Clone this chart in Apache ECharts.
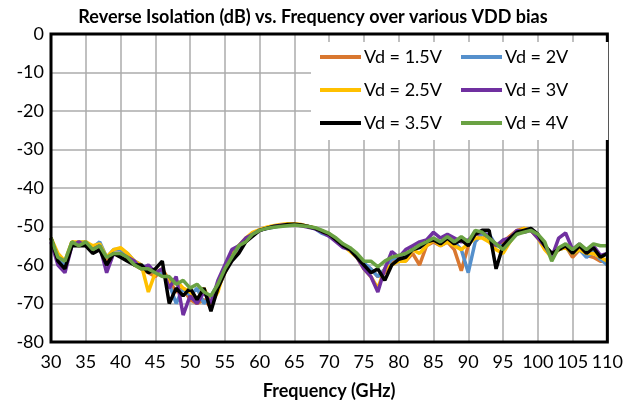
<!DOCTYPE html>
<html>
<head>
<meta charset="utf-8">
<script src="https://cdn.jsdelivr.net/npm/echarts@6/dist/echarts.min.js"></script>
<style>
  html, body { margin: 0; padding: 0; background: #fff; }
  #chart { width: 626px; height: 405px; }
</style>
</head>
<body>
<div id="chart"></div>
<script>
  // frequency points (GHz)
  const freqs = [30, 31, 32, 33, 34, 35, 36, 37, 38, 39, 40, 41, 42, 43, 44, 45, 46, 47, 48, 49,
    50, 51, 52, 53, 54, 55, 56, 57, 58, 59, 60, 61, 62, 63, 64, 65, 66, 67, 68, 69,
    70, 71, 72, 73, 74, 75, 76, 77, 78, 79, 80, 81, 82, 83, 84, 85, 86, 87, 88, 89,
    90, 91, 92, 93, 94, 95, 96, 97, 98, 99, 100, 101, 102, 103, 104, 105, 106, 107, 108, 109, 110];

  const xTicks = [30, 35, 40, 45, 50, 55, 60, 65, 70, 75, 80, 85, 90, 95, 100, 105, 110];
  const yTicks = [0, -10, -20, -30, -40, -50, -60, -70, -80];

  // S12 (dB) per Vd
  const vd15 = [-53, -58, -60, -54, -55, -54, -56, -55, -59, -57, -57, -58, -60, -61, -62, -63, -61, -64, -67, -66,
    -69, -70, -69, -71, -66, -62, -58, -56, -54, -52, -51, -50.3, -50, -49.7, -49.5, -49.4, -49.6, -50, -50.5, -51.2,
    -52, -53.5, -55, -56, -57.5, -60, -61, -63, -62, -59, -58, -59, -57, -60, -55, -54, -55, -54, -56, -61.5,
    -55, -52, -52, -53, -55, -54, -52.5, -51, -50.5, -51, -52.5, -55, -57, -56, -55, -58, -56, -57.5, -58, -59, -59];
  const vd2 = [-53, -58, -60, -55, -54, -54, -55.5, -54, -58, -56, -56, -57, -59, -60, -61, -62, -62, -65, -70, -66,
    -68, -66, -70, -68, -65, -61, -57.5, -55.5, -53.5, -52, -51, -50.5, -50.2, -49.8, -49.6, -49.5, -49.7, -50, -50.6, -51.8,
    -52.5, -53.5, -55, -56, -57.5, -59.5, -61, -63, -61, -58.5, -58, -57.5, -56, -55, -54.5, -53.5, -54, -53, -54, -56,
    -62, -54, -52, -52, -55, -55, -53.5, -52, -51, -51, -52.5, -55, -57, -56, -55.5, -57, -56, -58, -56.5, -58.5, -60];
  const vd25 = [-53, -57, -59, -54, -54, -54, -55, -54.5, -58, -56, -55.5, -57, -59, -60, -67, -62, -61, -65, -64, -66,
    -67, -69, -66, -70, -67, -61, -57, -55, -53, -51.5, -50.8, -50.2, -49.8, -49.5, -49.3, -49.3, -49.5, -50, -50.4, -51.2,
    -52, -53.5, -55, -56.5, -58, -61, -63, -66, -61, -60, -59, -59, -56, -57, -55, -53.5, -55, -54, -55, -56,
    -54.5, -53, -53, -54, -56, -57, -54, -51.5, -50.5, -51, -53, -56, -58, -56, -55.5, -57, -56, -57, -57, -58, -59];
  const vd3 = [-54, -60, -62, -55, -54, -55, -56, -55, -62, -57, -57, -58, -59, -61, -60, -62, -61, -66, -63, -73,
    -68, -70, -67, -70, -64, -60, -56, -55, -53, -52, -51, -50.5, -50, -49.7, -49.6, -49.5, -49.8, -50.2, -50.6, -51.5,
    -52.5, -54, -55.5, -56, -58, -61, -63, -67, -61, -56.5, -58, -56, -55, -54, -53.5, -51.5, -53, -52, -53, -54,
    -53.5, -52, -51.5, -52.5, -55, -53.5, -53, -51, -51.5, -51, -53, -55, -58, -53, -51.7, -56, -54.5, -56.5, -55, -57.5, -57];
  const vd35 = [-53, -59, -61, -55, -55, -55, -57, -56, -60, -57, -58, -59, -60, -60, -62, -61, -59, -70, -66, -68,
    -66, -69, -66, -72, -66, -62, -59, -57, -54, -52.5, -51, -50.5, -50, -49.8, -49.5, -49.4, -49.6, -50, -50.5, -51.3,
    -52, -53.5, -55, -56, -58, -60, -62, -61, -64, -60, -58.5, -58, -56, -55.5, -54, -53.5, -54.5, -53, -54.5, -53.5,
    -55, -52, -51, -51, -61, -55, -53, -51.5, -51, -50.5, -52, -55, -57, -56, -55, -57, -55, -57, -55.5, -58, -57];
  const vd4 = [-53, -58, -59, -54, -55, -54, -56, -55, -58, -57, -57, -58, -60, -61, -61, -62, -63, -63, -65, -64,
    -66, -65, -67, -68, -65, -61, -58, -55, -54, -52, -51, -50.5, -50.2, -50, -49.8, -49.6, -49.8, -50, -50.3, -51,
    -51.8, -53, -54.5, -55.5, -57, -59, -59, -60.5, -59, -58, -57.5, -57, -56, -54.8, -54, -53, -54, -52.6, -54, -52.6,
    -54, -51, -51.5, -53, -54.5, -56, -54, -52, -51.5, -51, -52, -54, -59, -55.5, -54.5, -56, -54.5, -56, -54.5, -55, -55];

  const seriesDefs = [
    { name: 'Vd = 1.5V', data: vd15, color: '#D9772F' },
    { name: 'Vd = 2V', data: vd2, color: '#5590CC' },
    { name: 'Vd = 2.5V', data: vd25, color: '#FFC000' },
    { name: 'Vd = 3V', data: vd3, color: '#7030A0' },
    { name: 'Vd = 3.5V', data: vd35, color: '#000000' },
    { name: 'Vd = 4V', data: vd4, color: '#6AA243' },
  ];

  const font = 'Lato, "Open Sans", sans-serif';

  const chart = echarts.init(document.getElementById('chart'));

  const legendBase = {
    orient: 'vertical',
    top: 42,
    itemWidth: 41,
    itemHeight: 4,
    itemGap: 15,
    icon: 'rect',
    backgroundColor: '#fff',
    textStyle: { fontFamily: font, fontSize: 18, color: '#000', padding: [0, 0, 0, -2] },
  };

  chart.setOption({
    animation: false,
    title: {
      text: 'Reverse Isolation (dB) vs. Frequency over various VDD bias',
      left: 'center',
      top: 3,
      textStyle: { fontFamily: font, fontSize: 18, fontWeight: 'bold', color: '#000' },
    },
    legend: [
      Object.assign({}, legendBase, {
        left: 311,
        padding: [6, 14, 8, 9],
        data: ['Vd = 1.5V', 'Vd = 2.5V', 'Vd = 3.5V'],
      }),
      Object.assign({}, legendBase, {
        left: 452,
        padding: [6, 40, 8, 9],
        data: ['Vd = 2V', 'Vd = 3V', 'Vd = 4V'],
      }),
    ],
    grid: {
      left: 51,
      right: 18,
      top: 34,
      bottom: 63,
      show: true,
      borderColor: '#000',
      borderWidth: 3,
      backgroundColor: 'transparent',
      z: 3,
    },
    xAxis: {
      type: 'value',
      min: 30,
      max: 110,
      interval: 5,
      name: 'Frequency (GHz)',
      nameLocation: 'middle',
      nameGap: 40,
      nameTextStyle: { fontFamily: font, fontSize: 18, fontWeight: 'bold', color: '#000' },
      axisLine: { show: false },
      axisTick: { show: false },
      axisLabel: {
        fontFamily: font,
        fontSize: 18,
        color: '#000',
        margin: 11,
        customValues: xTicks,
      },
      splitLine: { show: true, lineStyle: { color: '#ABABAB', width: 1.5 } },
    },
    yAxis: {
      type: 'value',
      min: -80,
      max: 0,
      interval: 10,
      axisLine: { show: false },
      axisTick: { show: false },
      axisLabel: {
        fontFamily: font,
        fontSize: 18,
        color: '#000',
        margin: 7,
        customValues: yTicks,
      },
      splitLine: { show: true, lineStyle: { color: '#ABABAB', width: 1.5 } },
    },
    series: seriesDefs.map((s) => ({
      name: s.name,
      type: 'line',
      data: freqs.map((f, i) => [f, s.data[i]]),
      showSymbol: false,
      color: s.color,
      lineStyle: { width: 3.5, color: s.color },
      z: 2,
    })),
  });
</script>
</body>
</html>
